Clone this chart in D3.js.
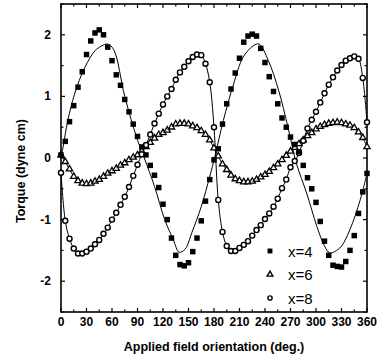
<!DOCTYPE html>
<html>
<head>
<meta charset="utf-8">
<script src="https://cdn.jsdelivr.net/npm/d3@7"></script>
<style>
  body { margin: 0; background: white; }
  text { font-family: "Liberation Sans", Arial, sans-serif; }
</style>
</head>
<body>
<svg width="378" height="360"></svg>
<script>
// angles (deg.) shared by all measured series
var angles = d3.range(0, 361, 5);

// x=4 torque (filled squares)
var x4 = [0.05, 0.27, 0.59, 0.85, 1.15, 1.40, 1.68, 1.90, 2.03, 2.08,
  2.00, 1.80, 1.58, 1.35, 1.18, 0.95, 0.75, 0.55, 0.35, 0.18,
  0.05, -0.12, -0.28, -0.48, -0.75, -1.00, -1.30, -1.58, -1.73, -1.75,
  -1.70, -1.52, -1.30, -1.02, -0.70, -0.35, -0.03, 0.15, 0.55, 0.88,
  1.12, 1.38, 1.62, 1.88, 1.98, 2.01, 1.98, 1.78, 1.55, 1.32,
  1.08, 0.88, 0.65, 0.50, 0.34, 0.22, 0.10, -0.12, -0.32, -0.50,
  -0.72, -1.03, -1.35, -1.58, -1.74, -1.76, -1.77, -1.68, -1.50, -1.26,
  -0.90, -0.55, -0.25];

// x=6 torque (open triangles)
var x6 = [0.05, -0.06, -0.18, -0.30, -0.37, -0.41, -0.42, -0.41, -0.38, -0.35,
  -0.30, -0.25, -0.21, -0.17, -0.12, -0.08, -0.03, 0.01, 0.05, 0.11,
  0.18, 0.25, 0.32, 0.38, 0.41, 0.45, 0.50, 0.55, 0.56, 0.56,
  0.55, 0.52, 0.49, 0.44, 0.38, 0.29, 0.16, 0.03, -0.10, -0.19,
  -0.28, -0.34, -0.37, -0.39, -0.39, -0.38, -0.35, -0.31, -0.27, -0.22,
  -0.16, -0.10, -0.03, 0.04, 0.11, 0.17, 0.23, 0.29, 0.36, 0.41,
  0.47, 0.51, 0.54, 0.56, 0.57, 0.58, 0.57, 0.55, 0.53, 0.49,
  0.42, 0.33, 0.18];

// x=8 torque (open circles)
var x8 = [-0.24, -1.02, -1.31, -1.47, -1.55, -1.55, -1.52, -1.47, -1.40, -1.33,
  -1.23, -1.13, -1.00, -0.89, -0.76, -0.63, -0.47, -0.29, -0.11, 0.06,
  0.21, 0.38, 0.56, 0.72, 0.87, 1.00, 1.12, 1.27, 1.39, 1.48,
  1.57, 1.64, 1.68, 1.67, 1.53, 1.23, 0.50, -0.68, -1.20, -1.43,
  -1.51, -1.51, -1.46, -1.41, -1.35, -1.26, -1.17, -1.09, -0.99, -0.90,
  -0.79, -0.66, -0.49, -0.35, -0.15, -0.05, 0.08, 0.28, 0.48, 0.62,
  0.75, 0.90, 1.05, 1.19, 1.31, 1.42, 1.51, 1.58, 1.62, 1.65,
  1.61, 1.30, 0.58];

// fitted curve drawn through the x=4 data
var fitAngles = [0, 2.5, 8, 16, 28, 40, 48, 55, 62, 75, 90, 98, 110, 122, 132, 139,
  146, 154, 165, 175, 181, 191, 203, 214, 226, 233, 244, 256, 267, 277, 289,
  301, 310, 316, 322, 330, 340, 352, 360];
var fitX4 = [0, 0.18, 0.61, 1.04, 1.47, 1.74, 1.82, 1.85, 1.76, 1.00, 0.29, 0.0, -0.46, -1.0, -1.32, -1.53,
  -1.48, -1.21, -0.79, -0.30, 0.02, 0.61, 1.20, 1.63, 1.82, 1.85, 1.58, 1.10, 0.50, -0.09, -0.57,
  -1.11, -1.43, -1.54, -1.52, -1.43, -1.16, -0.68, -0.25];

var xTicks = d3.range(0, 361, 30);
var yTicks = [-2, -1, 0, 1, 2];
var legendLabels = ["x=4", "x=6", "x=8"];

var svg = d3.select("svg");

var x = d3.scaleLinear().domain([0, 360]).range([61, 367]);
var y = d3.scaleLinear().domain([-2.5, 2.5]).range([312, 4]);

var plot = svg.append("g");

// frame
plot.append("rect")
    .attr("x", x(0))
    .attr("y", y(2.5))
    .attr("width", x(360) - x(0))
    .attr("height", y(-2.5) - y(2.5))
    .attr("fill", "none")
    .attr("stroke", "black")
    .attr("stroke-width", 1.6);

// inward ticks on all four sides
var xMinor = d3.range(0, 361, 15);
var yMinor = d3.range(-2.5, 2.51, 0.5);

plot.append("g").selectAll("line")
    .data(xMinor)
    .enter().append("line")
    .attr("x1", function (d) { return x(d); })
    .attr("x2", function (d) { return x(d); })
    .attr("y1", y(-2.5))
    .attr("y2", function (d) { return y(-2.5) - (d % 30 == 0 ? 4 : 2.5); })
    .attr("stroke", "black")
    .attr("stroke-width", 1.2);

plot.append("g").selectAll("line")
    .data(xMinor)
    .enter().append("line")
    .attr("x1", function (d) { return x(d); })
    .attr("x2", function (d) { return x(d); })
    .attr("y1", y(2.5))
    .attr("y2", function (d) { return y(2.5) + (d % 30 == 0 ? 4 : 2.5); })
    .attr("stroke", "black")
    .attr("stroke-width", 1.2);

plot.append("g").selectAll("line")
    .data(yMinor)
    .enter().append("line")
    .attr("y1", function (d) { return y(d); })
    .attr("y2", function (d) { return y(d); })
    .attr("x1", x(0))
    .attr("x2", function (d) { return x(0) + (Math.abs(d % 1) < 0.01 ? 4 : 2.5); })
    .attr("stroke", "black")
    .attr("stroke-width", 1.2);

plot.append("g").selectAll("line")
    .data(yMinor)
    .enter().append("line")
    .attr("y1", function (d) { return y(d); })
    .attr("y2", function (d) { return y(d); })
    .attr("x1", x(360))
    .attr("x2", function (d) { return x(360) - (Math.abs(d % 1) < 0.01 ? 4 : 2.5); })
    .attr("stroke", "black")
    .attr("stroke-width", 1.2);

// tick labels
svg.append("g").selectAll("text")
    .data(xTicks)
    .enter().append("text")
    .attr("x", function (d) { return x(d); })
    .attr("y", 326)
    .attr("text-anchor", "middle")
    .attr("font-size", "12px")
    .attr("font-weight", "bold")
    .text(function (d) { return d; });

svg.append("g").selectAll("text")
    .data(yTicks)
    .enter().append("text")
    .attr("x", 51)
    .attr("y", function (d) { return y(d) + 4; })
    .attr("text-anchor", "end")
    .attr("font-size", "12px")
    .attr("font-weight", "bold")
    .text(function (d) { return d; });

// axis titles
svg.append("text")
    .attr("x", 214)
    .attr("y", 351)
    .attr("text-anchor", "middle")
    .attr("font-size", "12.5px")
    .attr("font-weight", "bold")
    .text("Applied field orientation (deg.)");

svg.append("text")
    .attr("transform", "translate(25,171) rotate(-90)")
    .attr("text-anchor", "middle")
    .attr("font-size", "12.5px")
    .attr("font-weight", "bold")
    .text("Torque (dyne cm)");

// curves
var fitLine = d3.line()
    .x(function (d) { return x(d[0]); })
    .y(function (d) { return y(d[1]); })
    .curve(d3.curveCatmullRom);

plot.append("path")
    .datum(d3.zip(fitAngles, fitX4))
    .attr("d", fitLine)
    .attr("fill", "none")
    .attr("stroke", "black")
    .attr("stroke-width", 1);

plot.append("path")
    .datum(d3.zip(angles, x6))
    .attr("d", fitLine)
    .attr("fill", "none")
    .attr("stroke", "black")
    .attr("stroke-width", 1);

plot.append("path")
    .datum(d3.zip(angles, x8))
    .attr("d", fitLine)
    .attr("fill", "none")
    .attr("stroke", "black")
    .attr("stroke-width", 1);

// markers
var square = d3.symbol().type(d3.symbolSquare).size(30);
var triangle = d3.symbol().type(d3.symbolTriangle).size(17);
var circle = d3.symbol().type(d3.symbolCircle).size(20);

plot.append("g").selectAll("path")
    .data(d3.zip(angles, x6))
    .enter().append("path")
    .attr("d", triangle)
    .attr("transform", function (d) { return "translate(" + x(d[0]) + "," + y(d[1]) + ")"; })
    .attr("fill", "white")
    .attr("stroke", "black")
    .attr("stroke-width", 1.3);

plot.append("g").selectAll("path")
    .data(d3.zip(angles, x8))
    .enter().append("path")
    .attr("d", circle)
    .attr("transform", function (d) { return "translate(" + x(d[0]) + "," + y(d[1]) + ")"; })
    .attr("fill", "white")
    .attr("stroke", "black")
    .attr("stroke-width", 1.4);

plot.append("g").selectAll("path")
    .data(d3.zip(angles, x4))
    .enter().append("path")
    .attr("d", square)
    .attr("transform", function (d) { return "translate(" + x(d[0]) + "," + y(d[1]) + ")"; })
    .attr("fill", "black");

// legend
var legendSym = [
    d3.symbol().type(d3.symbolSquare).size(24),
    d3.symbol().type(d3.symbolTriangle).size(14),
    d3.symbol().type(d3.symbolCircle).size(14)
];
var legend = svg.append("g").selectAll("g")
    .data(legendLabels)
    .enter().append("g")
    .attr("transform", function (d, i) { return "translate(270," + (251 + i * 23.5) + ")"; });

legend.append("path")
    .attr("d", function (d, i) { return legendSym[i](); })
    .attr("fill", function (d, i) { return i == 0 ? "black" : "white"; })
    .attr("stroke", "black")
    .attr("stroke-width", function (d, i) { return i == 0 ? 0 : 1.4; });

legend.append("text")
    .attr("x", 18)
    .attr("y", 5.5)
    .attr("font-size", "15px")
    .text(function (d) { return d; });
</script>
</body>
</html>
